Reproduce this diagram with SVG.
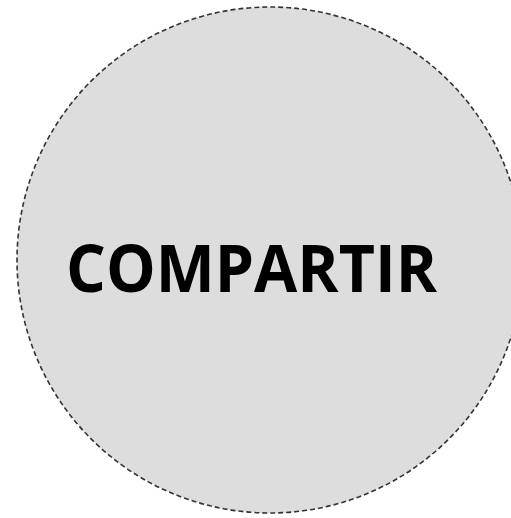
<svg xmlns="http://www.w3.org/2000/svg" width="511" height="518" viewBox="0 0 511 518">
<style>
.c{fill:#dddddd;stroke:#333333;stroke-width:1.6;stroke-dasharray:5 3}
.t{font-family:"Open Sans","Noto Sans",sans-serif;font-weight:bold;font-size:67px;fill:#000000}
</style>
<rect width="511" height="518" fill="#ffffff"/>
<g id="node-compartir">
<circle class="c" cx="270" cy="260" r="253"/>
<text class="t" x="251.5" y="292" text-anchor="middle" textLength="371" lengthAdjust="spacingAndGlyphs">COMPARTIR</text>
</g>
<g id="connectors"/>
</svg>
